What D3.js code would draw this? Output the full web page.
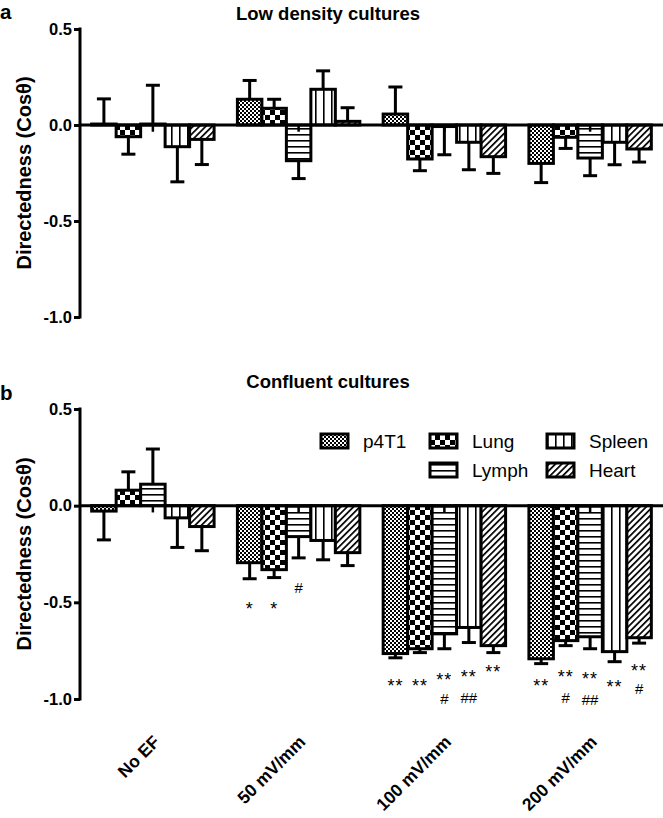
<!DOCTYPE html>
<html><head><meta charset="utf-8">
<script src="https://cdn.jsdelivr.net/npm/d3@7"></script>
<style>
html,body{margin:0;padding:0;background:#fff;}
svg text{font-family:"Liberation Sans",Arial,Helvetica,sans-serif;fill:#000;}
</style></head>
<body>
<svg id="chart" width="663" height="818"></svg>
<script>
// ---------- data ----------
const groups = ["No EF", "50 mV/mm", "100 mV/mm", "200 mV/mm"];
const series = ["p4T1", "Lung", "Lymph", "Spleen", "Heart"];
const yTicks = [0.5, 0.0, -0.5, -1.0];
const yTickLabels = ["0.5", "0.0", "-0.5", "-1.0"];

// panel a: Low density cultures (mean, error per group)
const lowP4T1 = [0.005, 0.134, 0.057, -0.200];
const lowP4T1Err = [0.131, 0.098, 0.141, 0.100];
const lowLung = [-0.061, 0.087, -0.177, -0.064];
const lowLungErr = [0.091, 0.047, 0.061, 0.058];
const lowLymph = [0.005, -0.186, -0.008, -0.172];
const lowLymphErr = [0.202, 0.093, 0.147, 0.092];
const lowSpleen = [-0.113, 0.186, -0.090, -0.090];
const lowSpleenErr = [0.183, 0.096, 0.143, 0.117];
const lowHeart = [-0.075, 0.019, -0.165, -0.125];
const lowHeartErr = [0.131, 0.071, 0.087, 0.068];

// panel b: Confluent cultures
const confP4T1 = [-0.028, -0.295, -0.765, -0.792];
const confP4T1Err = [0.149, 0.083, 0.022, 0.025];
const confLung = [0.080, -0.331, -0.740, -0.698];
const confLungErr = [0.095, 0.041, 0.020, 0.026];
const confLymph = [0.111, -0.160, -0.663, -0.678];
const confLymphErr = [0.182, 0.110, 0.077, 0.062];
const confSpleen = [-0.063, -0.180, -0.630, -0.755];
const confSpleenErr = [0.153, 0.100, 0.078, 0.052];
const confHeart = [-0.108, -0.243, -0.724, -0.683];
const confHeartErr = [0.125, 0.067, 0.036, 0.028];

// significance marks in panel b: [group, series, text, value position]
const confMarks = [
  ["50 mV/mm", "p4T1", "*", -0.514],
  ["50 mV/mm", "Lung", "*", -0.514],
  ["50 mV/mm", "Lymph", "#", -0.420],
  ["100 mV/mm", "p4T1", "**", -0.912],
  ["100 mV/mm", "Lung", "**", -0.912],
  ["100 mV/mm", "Lymph", "**", -0.880],
  ["100 mV/mm", "Lymph", "#", -0.995],
  ["100 mV/mm", "Spleen", "**", -0.866],
  ["100 mV/mm", "Spleen", "##", -0.990],
  ["100 mV/mm", "Heart", "**", -0.840],
  ["200 mV/mm", "p4T1", "**", -0.912],
  ["200 mV/mm", "Lung", "**", -0.866],
  ["200 mV/mm", "Lung", "#", -0.990],
  ["200 mV/mm", "Lymph", "**", -0.876],
  ["200 mV/mm", "Lymph", "##", -1.000],
  ["200 mV/mm", "Spleen", "**", -0.918],
  ["200 mV/mm", "Heart", "**", -0.834],
  ["200 mV/mm", "Heart", "#", -0.943]
];

const lowMeans = [lowP4T1, lowLung, lowLymph, lowSpleen, lowHeart];
const lowErrs = [lowP4T1Err, lowLungErr, lowLymphErr, lowSpleenErr, lowHeartErr];
const confMeans = [confP4T1, confLung, confLymph, confSpleen, confHeart];
const confErrs = [confP4T1Err, confLungErr, confLymphErr, confSpleenErr, confHeartErr];

// ---------- drawing ----------
const svg = d3.select("#chart");
const defs = svg.append("defs");
const pid = s => "pat-" + s;

// patterns
(function(){
  let p = defs.append("pattern").attr("id", pid("p4T1")).attr("patternUnits","userSpaceOnUse").attr("width",4).attr("height",4);
  p.append("rect").attr("width",4).attr("height",4).attr("fill","#fff");
  p.append("rect").attr("width",2).attr("height",2).attr("fill","#000");
  p.append("rect").attr("x",2).attr("y",2).attr("width",2).attr("height",2).attr("fill","#000");

  p = defs.append("pattern").attr("id", pid("Lung")).attr("patternUnits","userSpaceOnUse").attr("width",10).attr("height",10);
  p.append("rect").attr("width",10).attr("height",10).attr("fill","#fff");
  p.append("rect").attr("width",5).attr("height",5).attr("fill","#000");
  p.append("rect").attr("x",5).attr("y",5).attr("width",5).attr("height",5).attr("fill","#000");

  p = defs.append("pattern").attr("id", pid("Lymph")).attr("patternUnits","userSpaceOnUse").attr("width",6).attr("height",6);
  p.append("rect").attr("width",6).attr("height",6).attr("fill","#fff");
  p.append("rect").attr("y",2).attr("width",6).attr("height",1.6).attr("fill","#000");

  p = defs.append("pattern").attr("id", pid("Spleen")).attr("patternUnits","userSpaceOnUse").attr("width",8).attr("height",8);
  p.append("rect").attr("width",8).attr("height",8).attr("fill","#fff");
  p.append("rect").attr("x",3).attr("width",1.6).attr("height",8).attr("fill","#000");

  p = defs.append("pattern").attr("id", pid("Heart")).attr("patternUnits","userSpaceOnUse").attr("width",4.5).attr("height",4.5)
      .attr("patternTransform","rotate(45)");
  p.append("rect").attr("width",4.5).attr("height",4.5).attr("fill","#fff");
  p.append("rect").attr("width",1.7).attr("height",4.5).attr("fill","#000");
})();

const x0 = d3.scaleBand().domain(groups).range([80, 663]).paddingInner(0.16).paddingOuter(0.08);
const x1 = d3.scaleBand().domain(series).range([0, x0.bandwidth()]).padding(0);

function drawPanel(cfg) {
  const y = d3.scaleLinear().domain([-1, 0.5]).range([cfg.bottom, cfg.top]);
  const g = svg.append("g");

  // panel letter
  g.append("text").attr("x", 0).attr("y", cfg.letterY).attr("font-size", 20.5).attr("font-weight", "bold").text(cfg.letter);
  // title
  g.append("text").attr("x", 328).attr("y", cfg.titleY).attr("text-anchor", "middle")
    .attr("font-size", 18.5).attr("font-weight", "bold").text(cfg.title);

  // y axis
  const axis = d3.axisLeft(y).tickValues(yTicks).tickFormat((d, i) => yTickLabels[i]).tickSizeOuter(0).tickSize(6).tickPadding(2);
  const ag = g.append("g").attr("transform", "translate(80,0)").call(axis);
  ag.select(".domain").attr("stroke", "#000").attr("stroke-width", 3).attr("d", `M0,${cfg.top - 1.5}V${cfg.bottom + 1.5}`);
  ag.selectAll(".tick line").attr("stroke", "#000").attr("stroke-width", 3);
  ag.selectAll(".tick text").attr("font-size", 16.5).attr("font-weight", "bold")
    .attr("font-family", "'Liberation Sans',Arial,sans-serif").attr("fill", "#000");

  // y label
  g.append("text").attr("transform", `translate(31,${(cfg.top + cfg.bottom) / 2}) rotate(-90)`)
    .attr("text-anchor", "middle").attr("font-size", 20).attr("font-weight", "bold").text("Directedness (Cos\u03B8)");

  // bars + error bars
  series.forEach((s, i) => {
    groups.forEach((grp, j) => {
      const v = cfg.means[i][j], e = cfg.errs[i][j];
      const bx = x0(grp) + x1(s), bw = x1.bandwidth();
      const cx = bx + bw / 2;
      const end = v >= 0 ? v + e : v - e;
      // error bar
      g.append("line").attr("x1", cx).attr("x2", cx).attr("y1", y(v)).attr("y2", y(end))
        .attr("stroke", "#000").attr("stroke-width", 3);
      g.append("line").attr("x1", cx - 7).attr("x2", cx + 7).attr("y1", y(end)).attr("y2", y(end))
        .attr("stroke", "#000").attr("stroke-width", 3);
      // bar
      const yt = y(Math.max(v, 0)), yb = y(Math.min(v, 0));
      g.append("rect").attr("x", bx).attr("y", yt).attr("width", bw).attr("height", Math.max(yb - yt, 0.5))
        .attr("fill", `url(#${pid(s)})`).attr("stroke", "#000").attr("stroke-width", 3);
      if (s === "Lymph") {
        g.append("line").attr("x1", cx).attr("x2", cx).attr("y1", y(0)).attr("y2", y(-0.035))
          .attr("stroke", "#000").attr("stroke-width", 2.5);
      }
    });
  });

  // zero line
  g.append("line").attr("x1", 80).attr("x2", 663).attr("y1", y(0)).attr("y2", y(0))
    .attr("stroke", "#000").attr("stroke-width", 3);

  // marks
  if (cfg.marks) {
    cfg.marks.forEach(m => {
      const cx = x0(m[0]) + x1(m[1]) + x1.bandwidth() / 2;
      const star = m[2].indexOf("*") >= 0;
      g.append("text").attr("x", cx).attr("y", y(m[3]) + (star ? 10 : 6))
        .attr("text-anchor", "middle").attr("font-size", star ? 18 : 15)
        .attr("letter-spacing", star ? 1 : 0).text(m[2]);
    });
  }
  return y;
}

drawPanel({letter: "a", letterY: 19, title: "Low density cultures", titleY: 20, top: 29, bottom: 317, means: lowMeans, errs: lowErrs});
drawPanel({letter: "b", letterY: 400, title: "Confluent cultures", titleY: 388, top: 409, bottom: 699, means: confMeans, errs: confErrs, marks: confMarks});

// x labels (under panel b)
svg.append("g").selectAll("text").data(groups).join("text")
  .attr("transform", d => `translate(${x0(d) + x0.bandwidth() / 2 + 8},743) rotate(-45)`)
  .attr("text-anchor", "end").attr("font-size", 17.5).attr("font-weight", "bold").text(d => d);

// legend
const legendItems = [
  {s: "p4T1", x: 321, row: 0},
  {s: "Lung", x: 430, row: 0},
  {s: "Spleen", x: 547, row: 0},
  {s: "Lymph", x: 430, row: 1},
  {s: "Heart", x: 547, row: 1}
];
const lg = svg.append("g");
legendItems.forEach(it => {
  const cy = 441 + it.row * 29;
  lg.append("rect").attr("x", it.x).attr("y", cy - 7).attr("width", 27).attr("height", 14)
    .attr("fill", `url(#${pid(it.s)})`).attr("stroke", "#000").attr("stroke-width", 3);
  lg.append("text").attr("x", it.x + 42).attr("y", cy + 7).attr("font-size", 19).text(it.s);
});
</script>
</body></html>
